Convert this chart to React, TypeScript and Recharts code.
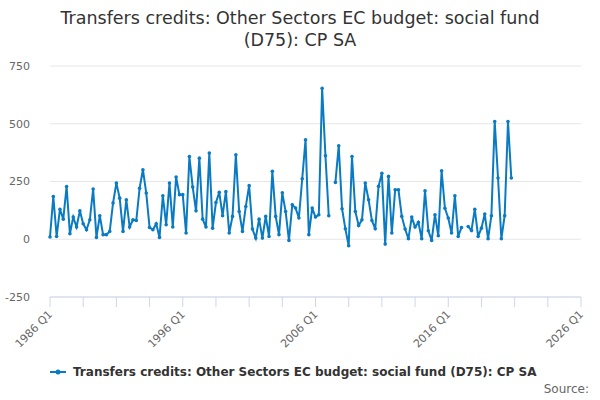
import { LineChart, Line, XAxis, YAxis, CartesianGrid } from "recharts"

// series starts at 1986 Q1, one value per quarter (null = no data)
const startYear = 1986

// values, 1986 Q1 .. 2020 Q4
const transferValues: (number | null)[] = [
  10, 185, 12, 130, 87, 228, 24, 96, 53, 123,
  67, 41, 84, 217, 8, 102, 20, 20, 34, 157,
  243, 178, 34, 171, 53, 84, 81, 221, 301, 200,
  51, 41, 67, 8, 188, 63, 243, 53, 269, 193,
  193, 27, 358, 226, 123, 351, 87, 53, 373, 48,
  159, 203, 102, 206, 27, 99, 366, 120, 34, 142,
  232, 44, 5, 87, 5, 99, 12, 294, 99, 20,
  201, 120, -5, 149, 135, 92, 262, 431, 20, 135,
  96, 106, 654, 361, 102, null, 246, 405, 132, 45,
  -28, 358, 120, 60, 84, 243, 171, 81, 45, 229,
  286, -21, 272, 27, 214, 214, 99, 44, 2, 96,
  53, 73, 2, 210, 37, -5, 106, 15, 296, 134,
  92, 27, 188, 12, 51, null, 55, 38, 130, 12,
  48, 109, 2, 102, 510, 265, 2, 102, 510, 265
]

// axis ticks: every 10 quarters, labelled every 40 (1986 Q1 .. 2026 Q1)
const xTicks = [0, 10, 20, 30, 40, 50, 60, 70, 80, 90, 100, 110, 120, 130, 140, 150, 160]
const xLabelTicks = [0, 40, 80, 120, 160]
const yTicks = [-250, 0, 250, 500, 750]

const seriesName = "Transfers credits: Other Sectors EC budget: social fund (D75): CP SA"
const lineColor = "#0a7bc2"

const quarterLabel = (t: number) =>
  `${startYear + Math.floor(t / 4)} Q${(t % 4) + 1}`

const chartData = transferValues.map((v, i) => ({
  t: i,
  quarter: quarterLabel(i),
  value: v
}))

// rotated x tick label, only on the labelled ticks
const XTick = ({ x, y, payload }: any) => {
  if (!xLabelTicks.includes(payload.value)) return <g />
  return (
    <text
      x={x + 3}
      y={y + 6}
      textAnchor="end"
      fill="#666666"
      fontSize={11}
      fontFamily="DejaVu Sans, sans-serif"
      transform={`rotate(-45 ${x + 3} ${y + 6})`}
    >
      {quarterLabel(payload.value)}
    </text>
  )
}

export default function App() {
  return (
    <div
      style={{
        position: "absolute",
        left: 0,
        top: 0,
        width: 600,
        height: 400,
        background: "#ffffff",
        fontFamily: "DejaVu Sans, sans-serif"
      }}
    >
      <div
        style={{
          position: "absolute",
          top: 7,
          left: 0,
          width: 600,
          textAlign: "center",
          fontSize: 17.5,
          lineHeight: "22px",
          color: "#333333"
        }}
      >
        Transfers credits: Other Sectors EC budget: social fund
        <br />
        (D75): CP SA
      </div>

      <LineChart
        width={600}
        height={400}
        data={chartData}
        margin={{ top: 66, right: 19, bottom: 73, left: 0 }}
      >
        <CartesianGrid vertical={false} stroke="#e6e6e6" />
        <XAxis
          dataKey="t"
          type="number"
          domain={[0, 160]}
          ticks={xTicks}
          interval={0}
          height={30}
          tick={<XTick />}
          tickSize={10}
          axisLine={{ stroke: "#ccd6eb" }}
          tickLine={{ stroke: "#ccd6eb" }}
        />
        <YAxis
          domain={[-250, 750]}
          ticks={yTicks}
          width={50}
          axisLine={false}
          tickLine={false}
          tickMargin={14}
          tick={{ fill: "#666666", fontSize: 11, fontFamily: "DejaVu Sans, sans-serif" }}
        />
        <Line
          type="linear"
          dataKey="value"
          name={seriesName}
          stroke={lineColor}
          strokeWidth={2}
          dot={{ r: 1.8, fill: lineColor, stroke: lineColor, strokeWidth: 0 }}
          isAnimationActive={false}
        />
      </LineChart>

      <div
        style={{
          position: "absolute",
          top: 365,
          left: 50,
          display: "flex",
          alignItems: "center",
          fontSize: 12,
          fontWeight: "bold",
          color: "#333333"
        }}
      >
        <svg width={18} height={10} style={{ marginRight: 5 }}>
          <line x1={0} y1={5} x2={16} y2={5} stroke={lineColor} strokeWidth={2} />
          <circle cx={8} cy={5} r={2.5} fill={lineColor} />
        </svg>
        {seriesName}
      </div>

      <div
        style={{
          position: "absolute",
          top: 382,
          right: 11,
          fontSize: 12,
          color: "#666666"
        }}
      >
        Source:
      </div>
    </div>
  )
}
